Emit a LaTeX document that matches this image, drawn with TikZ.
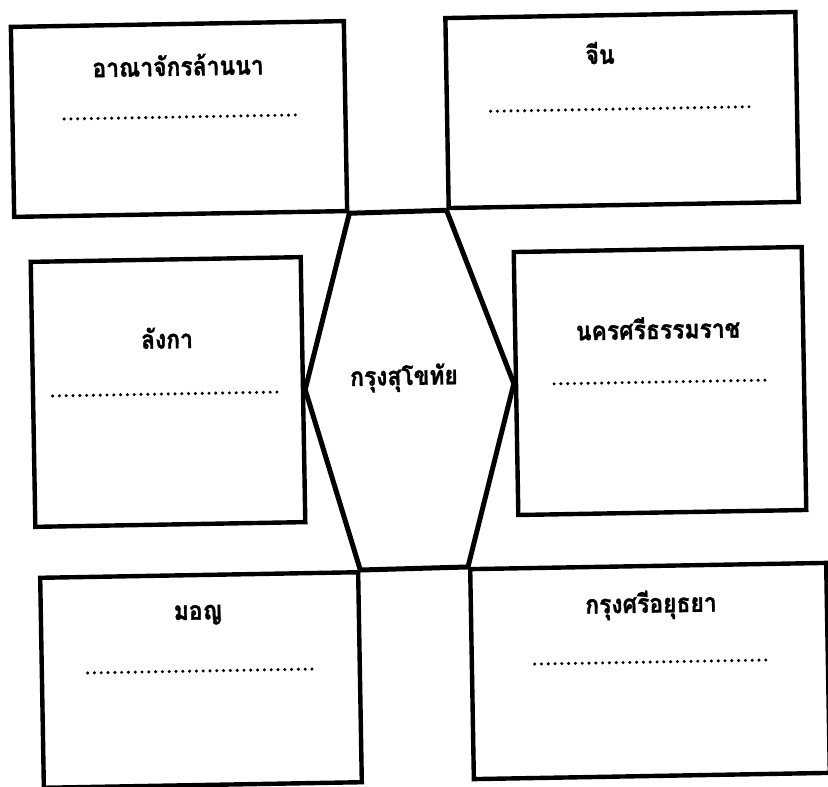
\documentclass[tikz,border=0pt]{standalone}
\usepackage{fontspec}
\newfontfamily\thaifont[Script=Thai,FakeStretch=0.88,BoldFeatures={FakeBold=1.2}]{Loma}
\begin{document}
\begin{tikzpicture}[
        x=0.5pt,
        y=-0.5pt,
        every node/.style={rotate=1},
        region/.style={
            draw,
            line width=2.2pt,
            inner sep=0pt
        },
        place/.style={
            font=\thaifont\bfseries\fontsize{13}{15}\selectfont,
            inner sep=0pt
        },
        blank/.style={
            inner sep=0pt,
            minimum height=1pt
        },
        dotrow/.style={
            line width=1.7pt,
            line cap=round,
            dash pattern=on 0pt off 3.4pt
        },
        border/.style={
            line width=2.5pt,
            line join=miter
        }
    ]
        \useasboundingbox (0,0) rectangle (828,786);
        \clip (0,0) rectangle (828,786);

        % Boxes: name/centre x/centre y/width/height (in px)
        \foreach \name/\x/\y/\w/\h in {lanna/179/119/333/190,
                china/622/110/350/190,
                lanka/168/392/270/265,
                nakhon/660/381/288/263,
                mon/201/680/318/210,
                ayutthaya/650/671/356/210}
            \node[region, minimum width=\w*0.5pt, minimum height=\h*0.5pt]
                (\name) at (\x,\y) {};

        % Centre hexagon joins the six boxes
        \draw[border] (lanna.south east) -- (china.south west)
            -- (nakhon.west) -- (ayutthaya.north west)
            -- (mon.north east) -- (lanka.east) -- cycle;
        \node[place] (sukhothai) at (404,378) {กรุงสุโขทัย};

        % Titles
        \node[place] (lannaname) at (178,65) {อาณาจักรล้านนา};
        \node[place] (chinaname) at (600,53) {จีน};
        \node[place] (lankaname) at (167,338) {ลังกา};
        \node[place] (nakhonname) at (658,328) {นครศรีธรรมราช};
        \node[place] (monname) at (198,615) {มอญ};
        \node[place] (ayutthayaname) at (651,605) {กรุงศรีอยุธยา};

        % Dotted blanks: name/centre x/y/length (in px)
        \foreach \name/\x/\y/\len in {lannadots/180/117/231,
                chinadots/621/109/260,
                lankadots/165/394/224,
                nakhondots/660/382/211,
                mondots/200/671/224,
                ayutthayadots/653/662/236} {
            \node[blank, minimum width=\len*0.5pt] (\name) at (\x,\y) {};
            \draw[dotrow] (\name.west) -- (\name.east);
        }

    \end{tikzpicture}
\end{document}
